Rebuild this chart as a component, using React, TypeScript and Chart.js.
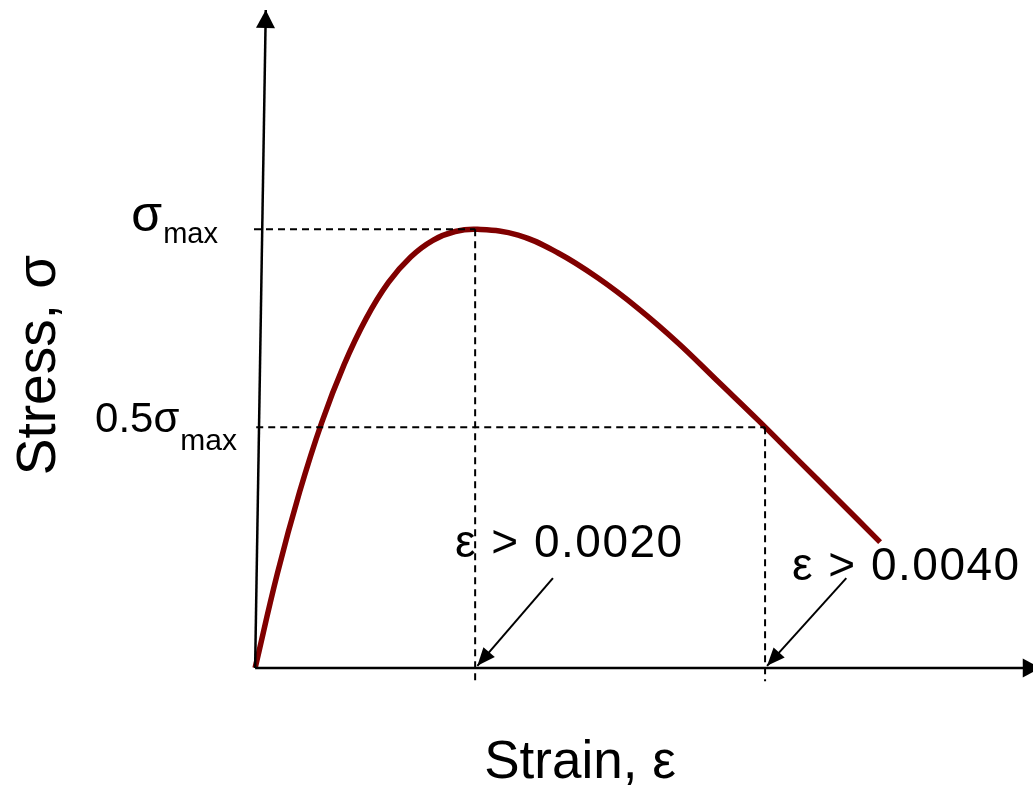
import React, { useEffect, useRef } from "react";
import { Chart, registerables } from "chart.js";

Chart.register(...registerables);

// ---- data (schematic units: strain axis arbitrary, stress normalised to σmax = 1) ----
const STRAIN = [0, 0.2, 0.4, 0.6, 0.8, 1.0, 1.2, 1.4, 1.6, 1.8, 2.0, 2.367, 2.727, 3.086, 3.446, 3.806, 4.166, 4.526, 4.886, 5.246, 5.624];
const STRESS = [0, 0.215, 0.401, 0.56, 0.691, 0.797, 0.879, 0.937, 0.975, 0.995, 1.0, 0.987, 0.946, 0.889, 0.82, 0.741, 0.653, 0.565, 0.474, 0.383, 0.287];

const SIGMA_MAX = 1.0;
const SIGMA_HALF = 0.549;
const STRAIN_AT_MAX = 1.98;
const STRAIN_AT_HALF = 4.589;

const Y_AXIS_X = [0, 0.096];
const Y_AXIS_Y = [0, 1.5];
const X_AXIS_X = [0, 7.07];
const X_AXIS_Y = [0, 0];

const ARROW1_X = [2.68, 2.0];
const ARROW1_Y = [0.205, 0.005];
const ARROW2_X = [5.32, 4.607];
const ARROW2_Y = [0.205, 0.005];

const LABEL_SMAX = ["σ", "max"];
const LABEL_SHALF = ["0.5σ", "max"];
const LABEL_E1 = "ε > 0.0020";
const LABEL_E2 = "ε > 0.0040";
const TITLE_X = "Strain, ε";
const TITLE_Y = "Stress, σ";

const X_MIN = -0.1;
const X_MAX = 7;
const Y_MIN = 0;
const Y_MAX = 1.5;

const FONT = "'Liberation Sans', Arial, sans-serif";

const pts = (xs: number[], ys: number[]) => xs.map((x, i) => ({ x, y: ys[i] }));

const arrowPlugin = {
  id: "arrowHeads",
  afterDatasetsDraw(chart: any) {
    const ctx = chart.ctx;
    chart.data.datasets.forEach((ds: any, i: number) => {
      if (!ds.arrowHead) return;
      const meta = chart.getDatasetMeta(i);
      const n = meta.data.length;
      const a = meta.data[n - 2];
      const b = meta.data[n - 1];
      const ang = Math.atan2(b.y - a.y, b.x - a.x);
      const L = ds.arrowHead.len;
      const W = ds.arrowHead.width / 2;
      ctx.save();
      ctx.fillStyle = "#000";
      ctx.beginPath();
      ctx.moveTo(b.x, b.y);
      ctx.lineTo(b.x - L * Math.cos(ang) - W * Math.sin(ang), b.y - L * Math.sin(ang) + W * Math.cos(ang));
      ctx.lineTo(b.x - L * Math.cos(ang) + W * Math.sin(ang), b.y - L * Math.sin(ang) - W * Math.cos(ang));
      ctx.closePath();
      ctx.fill();
      ctx.restore();
    });
  },
};

const textPlugin = {
  id: "labels",
  afterDraw(chart: any) {
    const { ctx } = chart;
    const ys = chart.scales.y;
    ctx.save();
    ctx.fillStyle = "#000";
    ctx.textBaseline = "alphabetic";
    ctx.textAlign = "left";

    const sub = (main: string, s: string, right: number, base: number, mainSize: number, subSize: number, drop: number) => {
      ctx.font = `${mainSize}px ${FONT}`;
      const w1 = ctx.measureText(main).width;
      ctx.font = `${subSize}px ${FONT}`;
      const w2 = ctx.measureText(s).width;
      const left = right - w1 - w2 - 1;
      ctx.font = `${mainSize}px ${FONT}`;
      ctx.fillText(main, left, base);
      ctx.font = `${subSize}px ${FONT}`;
      ctx.fillText(s, left + w1 + 1, base + drop);
    };

    const ySmax = ys.getPixelForValue(SIGMA_MAX);
    const yShalf = ys.getPixelForValue(SIGMA_HALF);
    sub(LABEL_SMAX[0], LABEL_SMAX[1], 218, ySmax + 2, 50, 29, 12);
    sub(LABEL_SHALF[0], LABEL_SHALF[1], 237, yShalf + 5, 42, 30, 18);

    ctx.font = `46px ${FONT}`;
    (ctx as any).letterSpacing = "1.5px";
    ctx.fillText(LABEL_E1, 455, 557);
    ctx.fillText(LABEL_E2, 792, 580);
    (ctx as any).letterSpacing = "0px";

    ctx.font = `53px ${FONT}`;
    ctx.textAlign = "center";
    ctx.fillText(TITLE_X, 580, 778);

    ctx.save();
    ctx.translate(55, 365);
    ctx.rotate(-Math.PI / 2);
    ctx.font = `55px ${FONT}`;
    ctx.fillText(TITLE_Y, 0, 0);
    ctx.restore();

    ctx.restore();
  },
};

export default function App() {
  const ref = useRef<HTMLCanvasElement>(null);
  useEffect(() => {
    if (!ref.current) return;
    const dashed = {
      borderColor: "#000",
      borderWidth: 2,
      borderDash: [7, 5],
      pointRadius: 0,
      showLine: true,
      clip: false as any,
    };
    const solid = {
      borderColor: "#000",
      borderWidth: 2.5,
      pointRadius: 0,
      showLine: true,
      clip: false as any,
    };
    const chart = new Chart(ref.current, {
      type: "scatter",
      data: {
        datasets: [
          {
            ...dashed,
            data: [
              { x: -0.01, y: SIGMA_MAX },
              { x: STRAIN_AT_MAX, y: SIGMA_MAX },
            ],
          },
          {
            ...dashed,
            data: [
              { x: STRAIN_AT_MAX, y: SIGMA_MAX },
              { x: STRAIN_AT_MAX, y: -0.03 },
            ],
          },
          {
            ...dashed,
            data: [
              { x: 0.01, y: SIGMA_HALF },
              { x: STRAIN_AT_HALF, y: SIGMA_HALF },
            ],
          },
          {
            ...dashed,
            data: [
              { x: STRAIN_AT_HALF, y: SIGMA_HALF },
              { x: STRAIN_AT_HALF, y: -0.03 },
            ],
          },
          { ...solid, data: pts(Y_AXIS_X, Y_AXIS_Y), arrowHead: { len: 18, width: 19 } } as any,
          { ...solid, data: pts(X_AXIS_X, X_AXIS_Y), arrowHead: { len: 18, width: 19 } } as any,
          { ...solid, borderWidth: 2, data: pts(ARROW1_X, ARROW1_Y), arrowHead: { len: 18, width: 15 } } as any,
          { ...solid, borderWidth: 2, data: pts(ARROW2_X, ARROW2_Y), arrowHead: { len: 18, width: 15 } } as any,
          {
            data: pts(STRAIN, STRESS),
            borderColor: "#800000",
            borderWidth: 5.5,
            pointRadius: 0,
            showLine: true,
            tension: 0.4,
            borderCapStyle: "butt",
            clip: false as any,
          } as any,
        ],
      },
      options: {
        animation: false,
        responsive: false,
        devicePixelRatio: 1,
        layout: { padding: { left: 244, right: 0, top: 10, bottom: 118 } },
        plugins: { legend: { display: false }, tooltip: { enabled: false } },
        events: [],
        scales: {
          x: { type: "linear", min: X_MIN, max: X_MAX, display: false },
          y: { type: "linear", min: Y_MIN, max: Y_MAX, display: false },
        },
      },
      plugins: [arrowPlugin, textPlugin],
    });
    return () => chart.destroy();
  }, []);
  return (
    <div style={{ position: "fixed", left: 0, top: 0, width: 1033, height: 786, background: "#fff" }}>
      <canvas ref={ref} width={1033} height={786} />
    </div>
  );
}
